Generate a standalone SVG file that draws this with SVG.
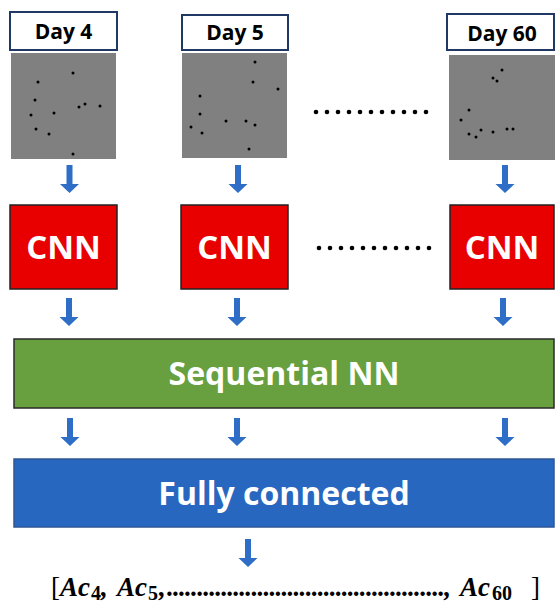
<svg xmlns="http://www.w3.org/2000/svg" xmlns:xlink="http://www.w3.org/1999/xlink" width="555" height="604" viewBox="0 0 555 604">
<style>
.lbl{fill:#fff;stroke:#1F3864;stroke-width:2}
.day{font-family:"Open Sans","DejaVu Sans",sans-serif;font-weight:700;font-size:21px;text-anchor:middle;fill:#000}
.img{fill:#808080}
.pt{fill:#000}
.cnn{fill:#E80000;stroke:#222;stroke-width:1.5}
.cnnt{font-family:"Open Sans","DejaVu Sans",sans-serif;font-weight:700;font-size:33px;text-anchor:middle;fill:#fff}
.seq{fill:#68A040;stroke:#2a2a2a;stroke-width:1.5}
.fc{fill:#2767BF;stroke:#2F5597;stroke-width:1.5}
.big{font-family:"Open Sans","DejaVu Sans",sans-serif;font-weight:700;font-size:32px;text-anchor:middle;fill:#fff}
.arr{fill:#2F6EC6}
.ell{fill:#000}
.math{font-family:"Liberation Serif","Times New Roman",serif;font-weight:700;font-style:italic;font-size:27px;fill:#000}
.sub{font-family:"Liberation Serif","Times New Roman",serif;font-weight:700;font-size:20px;fill:#000}
.br{font-family:"Liberation Serif","Times New Roman",serif;font-size:27px;fill:#000}
</style>
<defs>
<path id="arrow" class="arr" d="M-3,0 H3 V19 H9.5 L0,28 L-9.5,19 H-3 Z"/>
<circle id="d" r="1.5" class="pt"/>
<circle id="e" r="2.3" class="ell"/>
</defs>

<g id="day4">
<rect class="lbl" x="10" y="12" width="107" height="38"/>
<text class="day" x="63.5" y="39">Day 4</text>
<rect class="img" x="11" y="53" width="105" height="106"/>
<use href="#d" x="73" y="73"/><use href="#d" x="38" y="82"/><use href="#d" x="35" y="100"/><use href="#d" x="85" y="104"/><use href="#d" x="79" y="107"/><use href="#d" x="100" y="106"/><use href="#d" x="31" y="115"/><use href="#d" x="54" y="113"/><use href="#d" x="36" y="129"/><use href="#d" x="49" y="134"/><use href="#d" x="73" y="154"/>
</g>

<g id="day5">
<rect class="lbl" x="182" y="15" width="106" height="35"/>
<text class="day" x="235" y="40">Day 5</text>
<rect class="img" x="182" y="53" width="105" height="105"/>
<use href="#d" x="255" y="62"/><use href="#d" x="253" y="82"/><use href="#d" x="278" y="89"/><use href="#d" x="200" y="96"/><use href="#d" x="200" y="114"/><use href="#d" x="226" y="121"/><use href="#d" x="246" y="121"/><use href="#d" x="255" y="125"/><use href="#d" x="191" y="127"/><use href="#d" x="202" y="133"/><use href="#d" x="249" y="149"/>
</g>

<g id="day60">
<rect class="lbl" x="447" y="14" width="107" height="36"/>
<text class="day" x="502" y="41">Day 60</text>
<rect class="img" x="449" y="55" width="106" height="105"/>
<use href="#d" x="502" y="70"/><use href="#d" x="493" y="78"/><use href="#d" x="497" y="81"/><use href="#d" x="469" y="110"/><use href="#d" x="461" y="120"/><use href="#d" x="481" y="130"/><use href="#d" x="469" y="134"/><use href="#d" x="476" y="137"/><use href="#d" x="493" y="132"/><use href="#d" x="507" y="129"/><use href="#d" x="513" y="129"/>
</g>

<g id="ellipsis1">
<use href="#e" x="316" y="112"/><use href="#e" x="327" y="112"/><use href="#e" x="338" y="112"/><use href="#e" x="349" y="112"/><use href="#e" x="360" y="112"/><use href="#e" x="371" y="112"/><use href="#e" x="382" y="112"/><use href="#e" x="393" y="112"/><use href="#e" x="404" y="112"/><use href="#e" x="415" y="112"/><use href="#e" x="426" y="112"/>
</g>

<g id="cnn1">
<rect class="cnn" x="10" y="205" width="107" height="84"/>
<text class="cnnt" x="63.5" y="259">CNN</text>
</g>
<g id="cnn2">
<rect class="cnn" x="181" y="205" width="107" height="84"/>
<text class="cnnt" x="234.5" y="259">CNN</text>
</g>
<g id="cnn3">
<rect class="cnn" x="450" y="205" width="104" height="84"/>
<text class="cnnt" x="502" y="259">CNN</text>
</g>

<g id="ellipsis2">
<use href="#e" x="319" y="248"/><use href="#e" x="330" y="248"/><use href="#e" x="341" y="248"/><use href="#e" x="352" y="248"/><use href="#e" x="363" y="248"/><use href="#e" x="374" y="248"/><use href="#e" x="385" y="248"/><use href="#e" x="396" y="248"/><use href="#e" x="407" y="248"/><use href="#e" x="418" y="248"/><use href="#e" x="429" y="248"/>
</g>

<g id="sequential">
<rect class="seq" x="14" y="339" width="540" height="69"/>
<text class="big" x="284" y="385">Sequential NN</text>
</g>

<g id="fully">
<rect class="fc" x="14" y="459" width="540" height="68"/>
<text class="big" x="284" y="505">Fully connected</text>
</g>

<g id="output">
<text class="br" x="51" y="596">[</text>
<text class="math" x="60" y="596">Ac</text>
<text class="sub" x="91" y="600">4</text>
<text class="math" x="101" y="596">,</text>
<text class="math" x="117" y="596">Ac</text>
<text class="sub" x="148" y="600">5</text>
<text class="math" x="159" y="596">,</text>
<text class="math" x="167" y="596" textLength="284" lengthAdjust="spacing">..............................................,</text>
<text class="math" x="460" y="596">Ac</text>
<text class="sub" x="492" y="600">60</text>
<text class="br" x="531" y="596">]</text>
</g>

<g id="connectors">
<use href="#arrow" x="69.5" y="165"/>
<use href="#arrow" x="238" y="165"/>
<use href="#arrow" x="505" y="165"/>
<use href="#arrow" x="69" y="298"/>
<use href="#arrow" x="237" y="298"/>
<use href="#arrow" x="503" y="298"/>
<use href="#arrow" x="70" y="418"/>
<use href="#arrow" x="237" y="418"/>
<use href="#arrow" x="505" y="418"/>
<use href="#arrow" x="248" y="539"/>
</g>
</svg>
